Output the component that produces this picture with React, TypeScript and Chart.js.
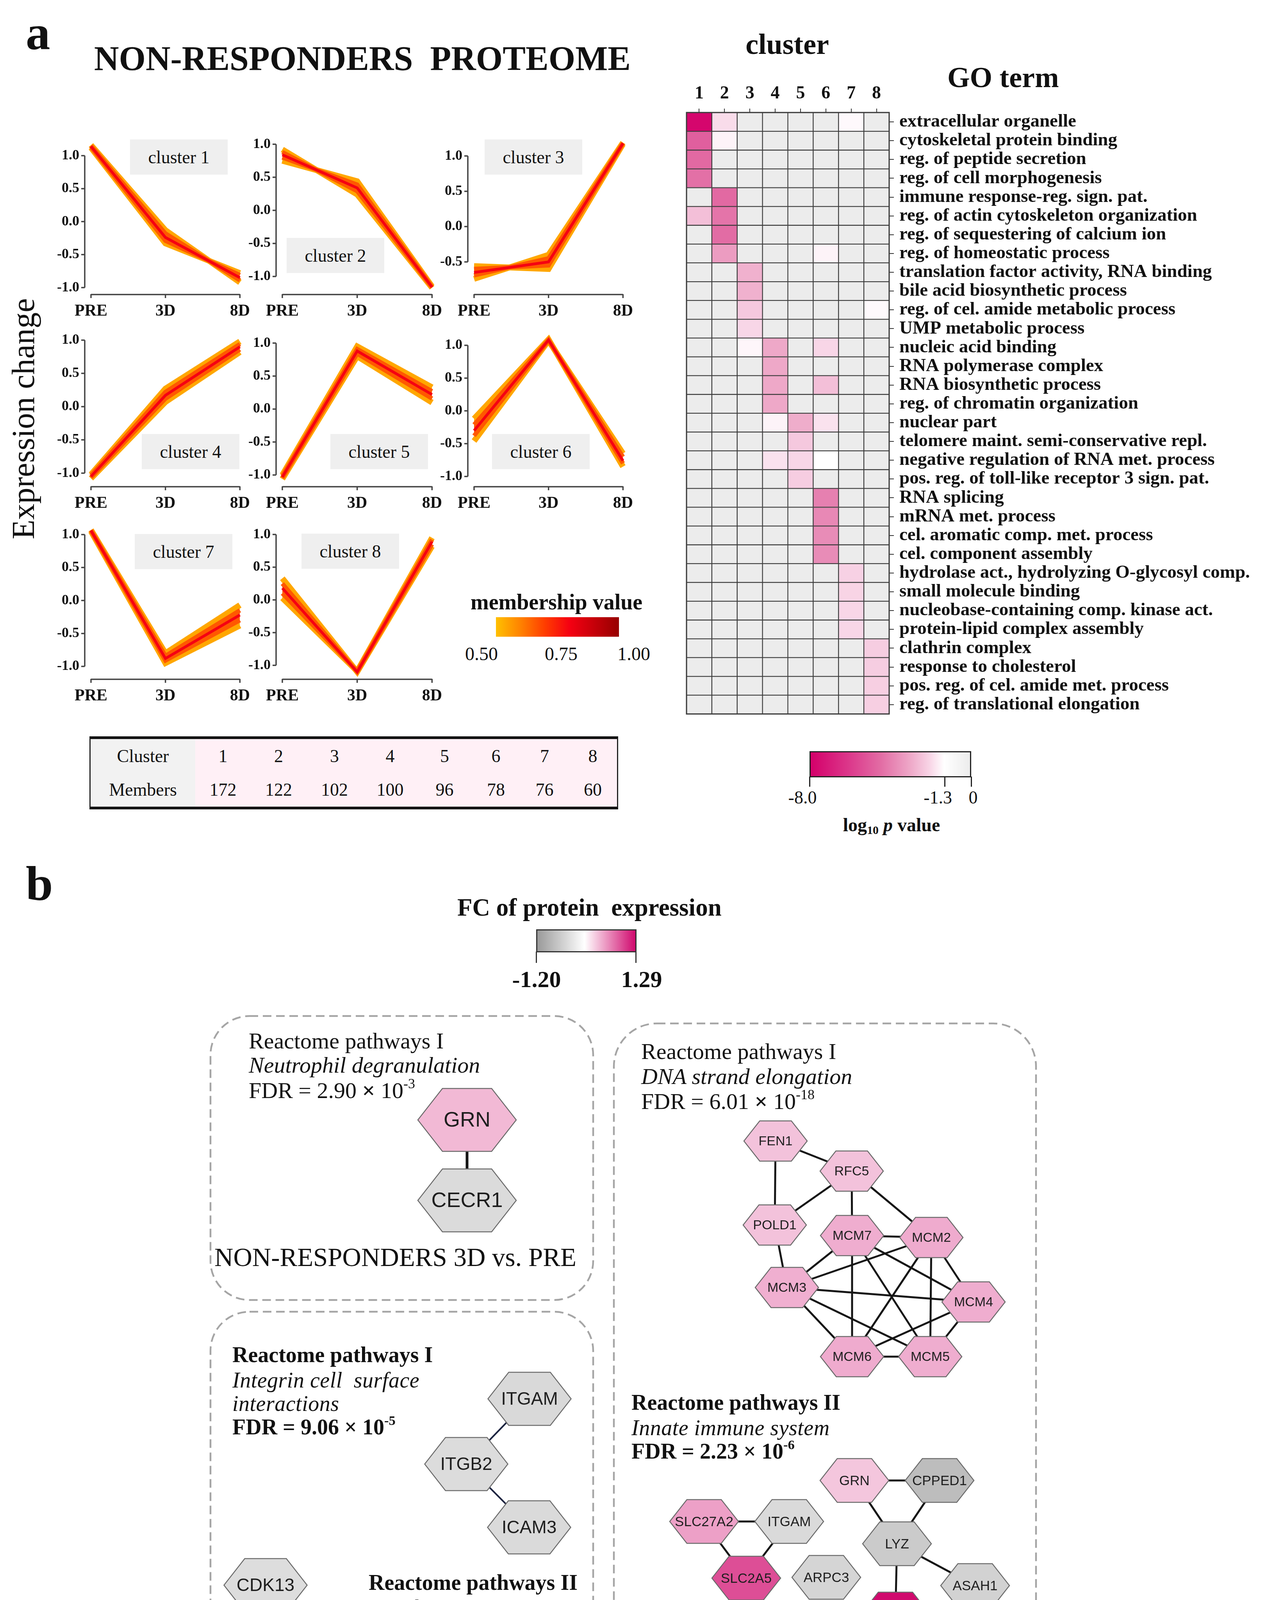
import React, { useEffect, useRef } from 'react';
import { Chart, registerables } from 'chart.js';

Chart.register(...registerables);

const SERIF = "'Liberation Serif', 'DejaVu Serif', 'Times New Roman', serif";
const SANS = "'Liberation Sans', Arial, 'DejaVu Sans', sans-serif";

/* ================= DATA ================= */
// --- cluster profiles (soft clustering) ---
const timepoints = ['PRE', '3D', '8D'];
const yTickValues = [-1.0, -0.5, 0.0, 0.5, 1.0];
const clusterIds = ['1', '2', '3', '4', '5', '6', '7', '8'];
const clusterMembers = [172, 122, 102, 100, 96, 78, 76, 60];
// membership value drawn for: outer band, inner band, core profile
const bandMembership = [0.54, 0.66, 0.8];

// each cluster: [outer edge A, inner edge A, core, inner edge B, outer edge B]
const cluster1 = [[1.16, -0.13, -0.92], [1.15, -0.18, -0.89], [1.14, -0.24, -0.85], [1.13, -0.29, -0.81], [1.12, -0.33, -0.78]];
const cluster2 = [[0.92, 0.24, -1.17], [0.88, 0.29, -1.165], [0.84, 0.34, -1.16], [0.80, 0.39, -1.155], [0.75, 0.44, -1.15]];
const cluster3 = [[-0.56, -0.60, 1.17], [-0.60, -0.55, 1.175], [-0.65, -0.50, 1.18], [-0.69, -0.45, 1.185], [-0.74, -0.40, 1.19]];
const cluster4 = [[-1.02, 0.27, 0.98], [-1.035, 0.22, 0.94], [-1.05, 0.17, 0.90], [-1.065, 0.12, 0.86], [-1.08, 0.07, 0.82]];
const cluster5 = [[-1.0, 0.95, 0.33], [-1.015, 0.91, 0.27], [-1.03, 0.88, 0.22], [-1.045, 0.84, 0.16], [-1.06, 0.80, 0.10]];
const cluster6 = [[-0.12, 1.09, -0.85], [-0.21, 1.085, -0.80], [-0.30, 1.08, -0.76], [-0.38, 1.075, -0.70], [-0.46, 1.07, -0.65]];
const cluster7 = [[1.07, -0.80, -0.07], [1.065, -0.84, -0.15], [1.06, -0.88, -0.22], [1.055, -0.91, -0.30], [1.05, -0.95, -0.38]];
const cluster8 = [[0.33, -1.10, 0.82], [0.25, -1.10, 0.85], [0.18, -1.10, 0.89], [0.10, -1.09, 0.92], [0.03, -1.09, 0.95]];
const clusterProfiles = [cluster1, cluster2, cluster3, cluster4, cluster5, cluster6, cluster7, cluster8];
const clusterYMin = [-1.022, -1.19, -0.885, -1.122, -1.095, -1.073, -1.112, -1.13];
const clusterYMax = [1.218, 1.045, 1.209, 1.083, 1.129, 1.163, 1.129, 1.13];

// --- GO enrichment heatmap (log10 p; 0 = not significant) ---
const goTerms = [
  'extracellular organelle', 'cytoskeletal protein binding', 'reg. of peptide secretion', 'reg. of cell morphogenesis',
  'immune response-reg. sign. pat.', 'reg. of actin cytoskeleton organization', 'reg. of sequestering of calcium ion', 'reg. of homeostatic process',
  'translation factor activity, RNA binding', 'bile acid biosynthetic process', 'reg. of cel. amide metabolic process', 'UMP metabolic process',
  'nucleic acid binding', 'RNA polymerase complex', 'RNA biosynthetic process', 'reg. of chromatin organization',
  'nuclear part', 'telomere maint. semi-conservative repl.', 'negative regulation of RNA met. process', 'pos. reg. of toll-like receptor 3 sign. pat.',
  'RNA splicing', 'mRNA met. process', 'cel. aromatic comp. met. process', 'cel. component assembly',
  'hydrolase act., hydrolyzing O-glycosyl comp.', 'small molecule binding', 'nucleobase-containing comp. kinase act.', 'protein-lipid complex assembly',
  'clathrin complex', 'response to cholesterol', 'pos. reg. of cel. amide met. process', 'reg. of translational elongation',
];
const goLog10P = [
  [-7.8, -1.9, 0, 0, 0, 0, -1.4, 0],
  [-4.9, -1.5, 0, 0, 0, 0, 0, 0],
  [-4.6, 0, 0, 0, 0, 0, 0, 0],
  [-4.4, 0, 0, 0, 0, 0, 0, 0],
  [0, -4.6, 0, 0, 0, 0, 0, 0],
  [-2.5, -4.3, 0, 0, 0, 0, 0, 0],
  [0, -4.5, 0, 0, 0, 0, 0, 0],
  [0, -3.3, 0, 0, 0, -1.5, 0, 0],
  [0, 0, -2.8, 0, 0, 0, 0, 0],
  [0, 0, -2.8, 0, 0, 0, 0, 0],
  [0, 0, -2.3, 0, 0, 0, 0, -1.4],
  [0, 0, -2.0, 0, 0, 0, 0, 0],
  [0, 0, -1.45, -3.0, 0, -2.0, 0, 0],
  [0, 0, 0, -3.0, 0, 0, 0, 0],
  [0, 0, 0, -3.0, 0, -2.5, 0, 0],
  [0, 0, 0, -3.0, 0, 0, 0, 0],
  [0, 0, 0, -1.5, -2.9, -1.8, 0, 0],
  [0, 0, 0, 0, -2.3, 0, 0, 0],
  [0, 0, 0, -1.8, -2.0, -1.3, 0, 0],
  [0, 0, 0, 0, -2.2, 0, 0, 0],
  [0, 0, 0, 0, 0, -4.0, 0, 0],
  [0, 0, 0, 0, 0, -3.8, 0, 0],
  [0, 0, 0, 0, 0, -3.7, 0, 0],
  [0, 0, 0, 0, 0, -3.7, 0, 0],
  [0, 0, 0, 0, 0, 0, -2.1, 0],
  [0, 0, 0, 0, 0, 0, -2.05, 0],
  [0, 0, 0, 0, 0, 0, -2.0, 0],
  [0, 0, 0, 0, 0, 0, -2.0, 0],
  [0, 0, 0, 0, 0, 0, 0, -2.2],
  [0, 0, 0, 0, 0, 0, 0, -2.2],
  [0, 0, 0, 0, 0, 0, 0, -2.15],
  [0, 0, 0, 0, 0, 0, 0, -2.15],
];
const pLegendTicks = [-8.0, -1.3, 0];
const pLegendLabels = ['-8.0', '-1.3', '0'];
const membershipTicks = ['0.50', '0.75', '1.00'];

// --- protein interaction networks (layout units) ---
const nodeNames = ['GRN', 'CECR1', 'ITGAM', 'ITGB2', 'ICAM3', 'CDK13', 'CDK12', 'SUN2', 'TERF2',
  'FEN1', 'RFC5', 'POLD1', 'MCM7', 'MCM2', 'MCM3', 'MCM4', 'MCM6', 'MCM5',
  'GRN', 'CPPED1', 'SLC27A2', 'ITGAM', 'SLC2A5', 'ARPC3', 'LYZ', 'ASAH1', 'CHI3L1', 'ARRB1', 'APBB1IP'];
const nodeX = [69.6, 69.6, 85.6, 69.4, 85.5, 18.0, 17.7, 85.3, 85.2,
  148.6, 168.1, 148.4, 168.2, 188.5, 151.5, 199.3, 168.2, 188.2,
  168.8, 190.6, 130.3, 152.1, 141.1, 161.6, 179.7, 199.7, 179.3, 133.8, 133.8];
const nodeY = [31.7, 52.3, 103.1, 119.8, 136.0, 150.8, 167.8, 186.2, 202.8,
  37.1, 44.8, 58.6, 61.3, 61.8, 74.6, 78.3, 92.3, 92.3,
  124.0, 124.0, 134.5, 134.5, 149.0, 148.8, 140.2, 150.9, 158.2, 173.6, 194.2];
const nodeFC = [0.37, -0.43, -0.45, -0.42, -0.44, -0.40, 0.35, -0.42, -0.48,
  0.32, 0.32, 0.32, 0.43, 0.44, 0.42, 0.43, 0.44, 0.43,
  0.30, -0.78, 0.50, -0.44, 0.93, -0.50, -0.62, -0.53, 1.29, -0.40, -0.80];
const nodeGroup = ['box1', 'box1', 'box2', 'box2', 'box2', 'box2', 'box2', 'box2', 'box2',
  'dna', 'dna', 'dna', 'dna', 'dna', 'dna', 'dna', 'dna', 'dna',
  'innate', 'innate', 'innate', 'innate', 'innate', 'innate', 'innate', 'innate', 'innate', 'raf', 'raf'];
const edges = [[0, 1], [2, 3], [3, 4], [5, 6], [7, 8],
  [9, 10], [9, 11], [10, 11], [10, 12], [10, 13], [11, 14],
  [12, 13], [12, 14], [12, 16], [12, 17], [12, 15], [13, 14], [13, 15], [13, 16], [13, 17],
  [14, 15], [14, 17], [14, 16], [15, 16], [15, 17], [16, 17],
  [18, 19], [18, 24], [19, 24], [24, 26], [24, 25], [20, 21], [20, 22], [21, 22], [27, 28]];
const fcLegendTicks = ['-1.20', '1.29'];

/* ================= STYLE ================= */
type RGB = [number, number, number];
const memStops: [number, RGB][] = [[0.5, [255, 192, 0]], [0.6, [255, 130, 0]], [0.7, [255, 60, 0]], [0.8, [245, 0, 18]], [1.0, [150, 0, 0]]];
const pStops: [number, RGB][] = [[-8, [212, 0, 106]], [-6, [220, 58, 140]], [-4.5, [226, 108, 164]], [-3, [238, 168, 200]], [-2, [248, 214, 231]], [-1.3, [255, 255, 255]], [0, [236, 236, 236]]];
const fcStops: [number, RGB][] = [[-1.2, [154, 154, 154]], [0, [255, 255, 255]], [1.29, [208, 10, 110]]];

function interp(stops: [number, RGB][], v: number): string {
  if (v <= stops[0][0]) { const c = stops[0][1]; return `rgb(${c[0]},${c[1]},${c[2]})`; }
  for (let i = 1; i < stops.length; i++) {
    if (v <= stops[i][0]) {
      const [a, ca] = stops[i - 1]; const [b, cb] = stops[i];
      const t = (v - a) / (b - a);
      const c = ca.map((x, k) => Math.round(x + (cb[k] - x) * t));
      return `rgb(${c[0]},${c[1]},${c[2]})`;
    }
  }
  const c = stops[stops.length - 1][1];
  return `rgb(${c[0]},${c[1]},${c[2]})`;
}
function gradientCss(stops: [number, RGB][]) {
  const lo = stops[0][0], hi = stops[stops.length - 1][0];
  return 'linear-gradient(to right, ' + stops.map(([v, c]) => `rgb(${c[0]},${c[1]},${c[2]}) ${((v - lo) / (hi - lo)) * 100}%`).join(', ') + ')';
}

const GROUP_STYLE: any = {
  box1: { w: 252, h: 161, font: 54, edgeW: 7, edgeC: '#151515' },
  box2: { w: 213, h: 136, font: 46, edgeW: 4, edgeC: '#1c2440' },
  dna: { w: 162, h: 103, font: 34, edgeW: 5, edgeC: '#151515' },
  innate: { w: 176, h: 112, font: 35, edgeW: 5, edgeC: '#151515' },
  raf: { w: 249, h: 156, font: 50, edgeW: 8, edgeC: '#151515' },
};

const COL_L = [233, 723, 1214];
const COL_R = [627, 1119, 1608];
const ROW_T = [340, 835, 1325];
const ROW_B = [740, 1232, 1725];
const LABEL_BOX = [[333, 357], [734, 609], [1241, 357], [363, 1111], [846, 1111], [1260, 1111], [345, 1367], [772, 1366]];

/* ================= HELPERS ================= */
function Txt({ x, y, size, bold = false, italic = false, align = 'left', family = SERIF, spacing = 0, children }: any) {
  const tx = align === 'center' ? '-50%' : align === 'right' ? '-100%' : '0';
  return (
    <div style={{
      position: 'absolute', left: x, top: y - 0.8375 * size, fontSize: size, lineHeight: `${size}px`,
      fontFamily: family, fontWeight: bold ? 'bold' : 'normal', fontStyle: italic ? 'italic' : 'normal',
      whiteSpace: 'pre', transform: `translateX(${tx})`, color: '#111', letterSpacing: spacing,
    }}>{children}</div>
  );
}
const Sup = ({ children }: any) => <span style={{ fontSize: '0.62em', position: 'relative', top: '-0.7em' }}>{children}</span>;
function FDR({ m, e }: any) { return <>FDR = {m} <span style={{ fontWeight: 'bold' }}>×</span> 10<Sup>{e}</Sup></>; }

/* ================= CHARTS ================= */
const axisPlugin = {
  id: 'rStyleAxes',
  afterDraw(chart: any) {
    const { ctx, chartArea, scales } = chart;
    const ys = scales.y, xs = scales.x;
    const vals = ys.ticks.map((t: any) => t.value);
    const x0 = chartArea.left - 16;
    ctx.save();
    ctx.strokeStyle = '#444';
    ctx.lineWidth = 3.5;
    ctx.beginPath();
    ctx.moveTo(x0, ys.getPixelForValue(Math.max(...vals)));
    ctx.lineTo(x0, ys.getPixelForValue(Math.min(...vals)));
    vals.forEach((v: number) => { const p = ys.getPixelForValue(v); ctx.moveTo(x0, p); ctx.lineTo(x0 - 9, p); });
    const yA = chartArea.bottom + 14;
    ctx.moveTo(xs.getPixelForValue(0), yA);
    ctx.lineTo(xs.getPixelForValue(timepoints.length - 1), yA);
    timepoints.forEach((_, i) => { const p = xs.getPixelForValue(i); ctx.moveTo(p, yA - 1); ctx.lineTo(p, yA + 9); });
    ctx.stroke();
    ctx.restore();
  },
};

function ClusterPlot({ i }: { i: number }) {
  const ref = useRef<HTMLCanvasElement>(null);
  const row = Math.floor(i / 3), col = i % 3;
  const L = COL_L[col], R = COL_R[col], T = ROW_T[row], B = ROW_B[row];
  const YW = 120, PT = 30, PR = 45, XH = 110;
  const width = R - L + YW + PR, height = B - T + PT + XH;
  useEffect(() => {
    const colors = bandMembership.map((m) => interp(memStops, m));
    const layer = [0, 1, 2, 1, 0];
    const bw = [15, 11, 7];
    const datasets = clusterProfiles[i].map((p, k) => ({
      data: p,
      borderColor: colors[layer[k]],
      backgroundColor: colors[layer[k]],
      borderWidth: bw[layer[k]],
      pointRadius: 0,
      tension: 0,
      fill: k === 0 ? '+4' : k === 1 ? '+2' : false,
      order: 3 - layer[k],
      clip: false,
    }));
    const chart = new Chart(ref.current as HTMLCanvasElement, {
      type: 'line',
      data: { labels: timepoints, datasets } as any,
      options: {
        animation: false, responsive: false, devicePixelRatio: 1,
        layout: { padding: { left: 0, top: PT, right: PR, bottom: 0 } },
        plugins: { legend: { display: false }, tooltip: { enabled: false }, filler: { drawTime: 'beforeDatasetDraw' } } as any,
        scales: {
          x: {
            type: 'category', offset: false,
            grid: { display: false, drawTicks: false }, border: { display: false },
            ticks: { font: { family: SERIF, size: 42, weight: 'bold' }, color: '#111', padding: 32, maxRotation: 0, autoSkip: false },
            afterFit: (s: any) => { s.height = XH; },
          },
          y: {
            type: 'linear', min: clusterYMin[i], max: clusterYMax[i],
            grid: { display: false, drawTicks: false }, border: { display: false },
            afterBuildTicks: (s: any) => { s.ticks = yTickValues.filter((v) => v >= s.min && v <= s.max).map((v) => ({ value: v })); },
            ticks: { font: { family: SERIF, size: 36, weight: 'bold' }, color: '#111', padding: 30, callback: (v: any) => Number(v).toFixed(1) },
            afterFit: (s: any) => { s.width = YW; },
          },
        } as any,
      },
      plugins: [axisPlugin],
    });
    return () => chart.destroy();
  }, [i]);
  return <canvas ref={ref} width={width} height={height} style={{ position: 'absolute', left: L - YW, top: T - PT, width, height }} />;
}

const framePlugin = {
  id: 'heatFrame',
  afterDatasetsDraw(chart: any) {
    const { ctx, chartArea: a } = chart;
    ctx.save();
    ctx.strokeStyle = '#3a3a3a';
    ctx.lineWidth = 3;
    ctx.strokeRect(a.left, a.top, a.right - a.left, a.bottom - a.top);
    ctx.restore();
  },
};

function Heatmap() {
  const ref = useRef<HTMLCanvasElement>(null);
  const CL = 1740, CT = 150, CW = 1525, CH = 1720;
  useEffect(() => {
    const datasets = clusterIds.map((_, j) => ({
      data: goTerms.map(() => 1),
      backgroundColor: goTerms.map((_, r) => interp(pStops, goLog10P[r][j])),
      borderColor: '#3c3c3c', borderWidth: 1.5, borderSkipped: false,
      barPercentage: 1, categoryPercentage: 1, xAxisID: 'x', yAxisID: 'y',
    }));
    const chart = new Chart(ref.current as HTMLCanvasElement, {
      type: 'bar',
      data: { labels: goTerms, datasets } as any,
      options: {
        indexAxis: 'y', animation: false, responsive: false, devicePixelRatio: 1,
        layout: { padding: { left: 18, top: 0, right: 0, bottom: 20 } },
        plugins: { legend: { display: false }, tooltip: { enabled: false } },
        scales: {
          x: { type: 'linear', stacked: true, min: 0, max: clusterIds.length, display: false },
          x2: {
            type: 'category', labels: clusterIds, position: 'top', offset: true,
            grid: { display: true, drawOnChartArea: false, drawTicks: true, tickLength: 10, color: '#333', lineWidth: 2, offset: false },
            border: { display: false },
            ticks: { font: { family: SERIF, size: 46, weight: 'bold' }, color: '#111', padding: 10, autoSkip: false, maxRotation: 0 },
            afterFit: (s: any) => { s.height = 138; },
          },
          y: {
            type: 'category', position: 'right', stacked: true,
            grid: { display: true, drawOnChartArea: false, drawTicks: true, tickLength: 12, color: '#333', lineWidth: 2, offset: false },
            border: { display: false },
            ticks: { font: { family: SERIF, size: 47, weight: 'bold' }, color: '#111', padding: 14, autoSkip: false },
            afterFit: (s: any) => { s.width = CW - 18 - 519; },
          },
        } as any,
      },
      plugins: [framePlugin],
    });
    return () => chart.destroy();
  }, []);
  return <canvas ref={ref} width={CW} height={CH} style={{ position: 'absolute', left: CL, top: CT, width: CW, height: CH }} />;
}

function Network() {
  const ref = useRef<HTMLCanvasElement>(null);
  const NX = 500, NY = 2550, NW = 2200, NH = 2277;
  useEffect(() => {
    const edgeSets = edges.map(([a, b]) => {
      const st = GROUP_STYLE[nodeGroup[a]];
      return {
        type: 'line', data: [{ x: nodeX[a], y: nodeY[a] }, { x: nodeX[b], y: nodeY[b] }],
        borderColor: st.edgeC, borderWidth: st.edgeW, pointRadius: 0, showLine: true, fill: false,
      };
    });
    const nodeSet = { type: 'scatter', data: nodeNames.map((_, k) => ({ x: nodeX[k], y: nodeY[k] })), pointRadius: 0 };
    const nodeIndex = edgeSets.length;
    const hexPlugin = {
      id: 'hexNodes',
      afterDatasetsDraw(chart: any) {
        const ctx = chart.ctx;
        const meta = chart.getDatasetMeta(nodeIndex);
        meta.data.forEach((pt: any, k: number) => {
          const st = GROUP_STYLE[nodeGroup[k]];
          const { x, y } = pt; const w = st.w, h = st.h;
          ctx.save();
          ctx.beginPath();
          ctx.moveTo(x - w / 2, y); ctx.lineTo(x - w / 4, y - h / 2); ctx.lineTo(x + w / 4, y - h / 2);
          ctx.lineTo(x + w / 2, y); ctx.lineTo(x + w / 4, y + h / 2); ctx.lineTo(x - w / 4, y + h / 2);
          ctx.closePath();
          ctx.fillStyle = interp(fcStops, nodeFC[k]);
          ctx.fill();
          ctx.strokeStyle = '#6b6b6b'; ctx.lineWidth = 2.5; ctx.stroke();
          ctx.fillStyle = '#1e1e1e';
          ctx.font = `${st.font}px ${SANS}`;
          ctx.textAlign = 'center'; ctx.textBaseline = 'middle';
          ctx.fillText(nodeNames[k], x, y + 2);
          ctx.restore();
        });
      },
    };
    const chart = new Chart(ref.current as HTMLCanvasElement, {
      type: 'scatter',
      data: { datasets: [...edgeSets, nodeSet] } as any,
      options: {
        animation: false, responsive: false, devicePixelRatio: 1,
        layout: { padding: 0 },
        plugins: { legend: { display: false }, tooltip: { enabled: false } },
        scales: {
          x: { type: 'linear', min: 0, max: NW / 10, display: false },
          y: { type: 'linear', min: 0, max: NH / 10, reverse: true, display: false },
        },
      },
      plugins: [hexPlugin],
    });
    return () => chart.destroy();
  }, []);
  return <canvas ref={ref} width={NW} height={NH} style={{ position: 'absolute', left: NX, top: NY, width: NW, height: NH }} />;
}

/* ================= APP ================= */
export default function App() {
  useEffect(() => { document.body.style.margin = '0'; }, []);
  const pL = 2073, pW = 414;
  const pPos = (v: number) => pL + ((v - pStops[0][0]) / (pStops[pStops.length - 1][0] - pStops[0][0])) * pW;
  const colW = [142, 143, 143, 142, 137, 126, 123, 124];
  return (
    <div style={{ position: 'absolute', left: 0, top: 0, width: 3265, height: 4827, background: '#fff', overflow: 'hidden', fontFamily: SERIF, color: '#111' }}>
      {/* ---------- panel a ---------- */}
      <Txt x={66} y={127} size={125} bold>a</Txt>
      <Txt x={241} y={180} size={88} bold>{'NON-RESPONDERS  PROTEOME'}</Txt>
      <div style={{ position: 'absolute', left: 60, top: 1072, transform: 'translate(-50%,-50%) rotate(-90deg)', fontSize: 82, lineHeight: '82px', fontFamily: SERIF, whiteSpace: 'nowrap' }}>Expression change</div>

      {clusterIds.map((_, i) => <ClusterPlot key={i} i={i} />)}
      {clusterIds.map((c, i) => (
        <div key={'lb' + i} style={{ position: 'absolute', left: LABEL_BOX[i][0], top: LABEL_BOX[i][1], width: 250, height: 90, background: '#efefef', display: 'flex', alignItems: 'center', justifyContent: 'center', fontSize: 46, fontFamily: SERIF }}>cluster {c}</div>
      ))}

      {/* membership legend */}
      <Txt x={1205} y={1560} size={56} bold>membership value</Txt>
      <div style={{ position: 'absolute', left: 1270, top: 1580, width: 315, height: 50, background: gradientCss(memStops) }} />
      {membershipTicks.map((t, k) => <Txt key={t} x={[1233, 1437, 1623][k]} y={1690} size={48} align="center">{t}</Txt>)}

      {/* cluster members table */}
      <div style={{ position: 'absolute', left: 229, top: 1885, width: 1354, height: 187, boxSizing: 'border-box', borderTop: '7px solid #141414', borderBottom: '7px solid #141414', borderLeft: '3px solid #222', borderRight: '3px solid #222', display: 'flex', background: '#fff0f6', fontSize: 46, fontFamily: SERIF }}>
        <div style={{ width: 268, background: '#f2f2f2', display: 'flex', flexDirection: 'column' }}>
          <div style={{ flex: 1, display: 'flex', alignItems: 'center', justifyContent: 'center' }}>Cluster</div>
          <div style={{ flex: 1, display: 'flex', alignItems: 'center', justifyContent: 'center' }}>Members</div>
        </div>
        {clusterIds.map((c, k) => (
          <div key={c} style={{ width: colW[k], display: 'flex', flexDirection: 'column' }}>
            <div style={{ flex: 1, display: 'flex', alignItems: 'center', justifyContent: 'center' }}>{c}</div>
            <div style={{ flex: 1, display: 'flex', alignItems: 'center', justifyContent: 'center' }}>{clusterMembers[k]}</div>
          </div>
        ))}
      </div>

      {/* heatmap */}
      <Txt x={2016} y={138} size={74} bold align="center">cluster</Txt>
      <Txt x={2426} y={223} size={74} bold>GO term</Txt>
      <Heatmap />
      <div style={{ position: 'absolute', left: pL, top: 1923, width: pW, height: 67, boxSizing: 'border-box', border: '3px solid #222', background: gradientCss(pStops) }} />
      {pLegendTicks.map((v, k) => (
        <React.Fragment key={k}>
          <div style={{ position: 'absolute', left: pPos(v) - 1.5, top: 1988, width: 3, height: 26, background: '#222' }} />
          <Txt x={pPos(v) + (pLegendLabels[k].startsWith('-') ? -18 : 5)} y={2058} size={46} align="center">{pLegendLabels[k]}</Txt>
        </React.Fragment>
      ))}
      <Txt x={2283} y={2128} size={48} bold align="center">log<span style={{ fontSize: '0.62em', position: 'relative', top: '0.25em' }}>10</span> <i>p</i> value</Txt>

      {/* ---------- panel b ---------- */}
      <Txt x={66} y={2305} size={125} bold>b</Txt>
      <Txt x={1171} y={2345} size={63} bold>{'FC of protein  expression'}</Txt>
      <div style={{ position: 'absolute', left: 1373, top: 2379, width: 257, height: 59, boxSizing: 'border-box', border: '3px solid #333', background: gradientCss(fcStops) }} />
      <div style={{ position: 'absolute', left: 1372, top: 2436, width: 3, height: 29, background: '#333' }} />
      <div style={{ position: 'absolute', left: 1627, top: 2436, width: 3, height: 29, background: '#333' }} />
      <Txt x={1374} y={2527} size={60} bold align="center">{fcLegendTicks[0]}</Txt>
      <Txt x={1643} y={2527} size={60} bold align="center">{fcLegendTicks[1]}</Txt>

      <svg width={3265} height={4827} style={{ position: 'absolute', left: 0, top: 0 }}>
        <g fill="none" stroke="#a5a5a5" strokeWidth={4.5} strokeDasharray="22 12">
          <rect x={539} y={2601} width={980} height={727} rx={100} />
          <rect x={539} y={3358} width={980} height={1417} rx={100} />
          <rect x={1572} y={2620} width={1081} height={2163} rx={110} />
        </g>
      </svg>

      <Network />

      {/* box 1 */}
      <Txt x={637} y={2685} size={58}>Reactome pathways I</Txt>
      <Txt x={637} y={2747} size={58} italic>Neutrophil degranulation</Txt>
      <Txt x={637} y={2812} size={58}><FDR m="2.90" e="-3" /></Txt>
      <Txt x={549} y={3241} size={67}>NON-RESPONDERS 3D vs. PRE</Txt>

      {/* box 2 */}
      <Txt x={595} y={3487} size={56} bold>Reactome pathways I</Txt>
      <Txt x={595} y={3552} size={56} italic spacing={0.5}>{'Integrin cell  surface'}</Txt>
      <Txt x={595} y={3612} size={56} italic spacing={0.5}>interactions</Txt>
      <Txt x={595} y={3672} size={56} bold><FDR m="9.06" e="-5" /></Txt>
      <Txt x={1479} y={4070} size={56} bold align="right">Reactome pathways II</Txt>
      <Txt x={1479} y={4135} size={56} italic spacing={0.5} align="right">TP53 regulates transcription</Txt>
      <Txt x={1479} y={4195} size={56} italic spacing={0.5} align="right">of DNA repair genes</Txt>
      <Txt x={1479} y={4255} size={56} bold align="right"><FDR m="2.00" e="-3" /></Txt>
      <Txt x={633} y={4454} size={56} bold>Reactome pathways III</Txt>
      <Txt x={633} y={4519} size={56} italic spacing={0.5}>Meiotic synapsis</Txt>
      <Txt x={633} y={4579} size={56} bold><FDR m="2.00" e="-3" /></Txt>
      <Txt x={566} y={4718} size={63} bold>NON-RESPONDERS 8D vs. 3D</Txt>

      {/* box 3 */}
      <Txt x={1642} y={2712} size={58}>Reactome pathways I</Txt>
      <Txt x={1642} y={2776} size={58} italic>DNA strand elongation</Txt>
      <Txt x={1642} y={2840} size={58}><FDR m="6.01" e="-18" /></Txt>
      <Txt x={1617} y={3609} size={56} bold>Reactome pathways II</Txt>
      <Txt x={1617} y={3674} size={56} italic spacing={0.5}>Innate immune system</Txt>
      <Txt x={1617} y={3734} size={56} bold><FDR m="2.23" e="-6" /></Txt>
      <Txt x={2578} y={4307} size={56} bold align="right">Reactome pathways III</Txt>
      <Txt x={2578} y={4371} size={56} italic spacing={0.5} align="right">Paradoxical activation</Txt>
      <Txt x={2578} y={4432} size={56} italic spacing={0.5} align="right">of RAF signaling*</Txt>
      <Txt x={2578} y={4496} size={56} bold align="right"><FDR m="2.90" e="-3" /></Txt>
      <Txt x={1629} y={4716} size={63} bold>NON-RESPONDERS 8D vs. PRE</Txt>
    </div>
  );
}
